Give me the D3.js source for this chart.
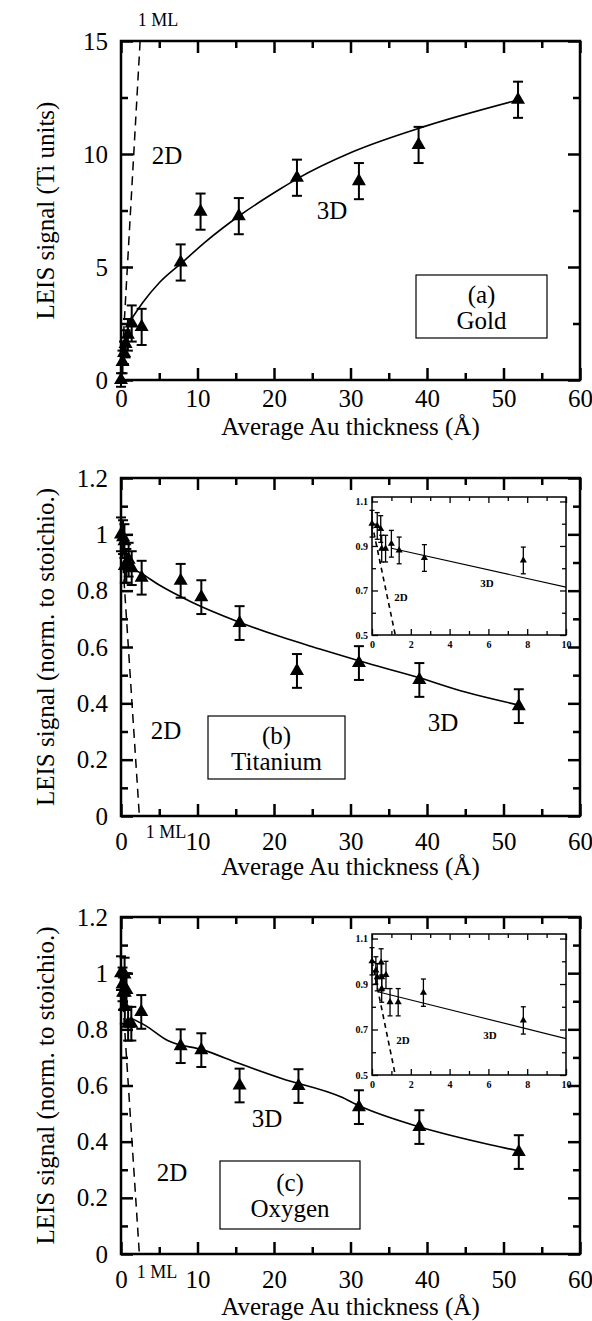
<!DOCTYPE html>
<html>
<head>
<meta charset="utf-8">
<script src="https://cdn.jsdelivr.net/npm/d3@7"></script>
<style>
  body { margin: 0; background: #fff; }
  svg { display: block; }
  text { font-family: "Liberation Serif", "Times New Roman", serif; fill: #000; }
</style>
</head>
<body>
<svg id="chart" width="592" height="1321"></svg>
<script>
// x axis (Average Au thickness, Angstrom)
var xTicks = [0, 10, 20, 30, 40, 50, 60];
var xMinor = [5, 15, 25, 35, 45, 55];
var goldTicks = [0, 5, 10, 15];
var goldMinor = [2.5, 7.5, 12.5];
var normTicks = [0, 0.2, 0.4, 0.6, 0.8, 1, 1.2];
var normMinor = [0.1, 0.3, 0.5, 0.7, 0.9, 1.1];
var insetXTicks = [0, 2, 4, 6, 8, 10];
var insetXMinor = [1, 3, 5, 7, 9];
var insetYTicks = [0.5, 0.7, 0.9, 1.1];
var insetYMinor = [0.6, 0.8, 1.0];

// (a) Gold
var goldX   = [0, 0.2, 0.4, 0.6, 0.9, 1.4, 2.7, 7.8, 10.4, 15.4, 23, 31.1, 38.9, 51.9];
var goldY   = [0, 0.8, 1.2, 1.6, 2.0, 2.5, 2.35, 5.2, 7.45, 7.25, 8.95, 8.8, 10.4, 12.4];
var goldErr = [0.3, 0.5, 0.5, 0.6, 0.7, 0.8, 0.8, 0.8, 0.8, 0.8, 0.8, 0.8, 0.8, 0.8];
var goldFitX = [0.9, 2.9, 5, 8, 11, 15.6, 20.8, 23, 30.3, 39.5, 52];
var goldFitY = [2.45, 3.45, 4.3, 5.2, 6.1, 7.3, 8.45, 8.9, 10.1, 11.2, 12.4];
var goldMlX = [0, 2.5];
var goldMlY = [0, 15];

// (b) Titanium
var tiX   = [0, 0.27, 0.45, 0.5, 0.7, 1.0, 1.4, 2.7, 7.8, 10.5, 15.5, 23, 31.1, 39, 52];
var tiY   = [1.0, 0.99, 0.976, 0.888, 0.888, 0.91, 0.88, 0.846, 0.835, 0.777, 0.685, 0.515, 0.543, 0.483, 0.39];
var tiErr = [0.06, 0.06, 0.06, 0.06, 0.06, 0.06, 0.06, 0.06, 0.06, 0.06, 0.06, 0.06, 0.06, 0.06, 0.06];
var tiFitX = [1.3, 2.6, 5, 9.2, 15.3, 20.9, 26, 31.2, 39.1, 45, 52];
var tiFitY = [0.88, 0.862, 0.82, 0.76, 0.69, 0.636, 0.593, 0.55, 0.49, 0.44, 0.394];
var tiInsetFitX = [1.0, 10];
var tiInsetFitY = [0.89, 0.715];

// (c) Oxygen
var oxX   = [0, 0.2, 0.27, 0.47, 0.5, 0.5, 0.72, 0.93, 1.35, 2.65, 7.8, 10.5, 15.5, 23.2, 31.1, 39, 52];
var oxY   = [1.0, 0.96, 0.93, 0.995, 0.93, 0.88, 0.94, 0.82, 0.82, 0.862, 0.74, 0.726, 0.6, 0.598, 0.523, 0.452, 0.363];
var oxErr = [0.06, 0.06, 0.06, 0.06, 0.06, 0.06, 0.06, 0.06, 0.06, 0.06, 0.06, 0.06, 0.06, 0.06, 0.06, 0.06, 0.06];
var oxFitX = [1.3, 3.1, 6.1, 10.8, 15.3, 20.9, 28.8, 31.2, 39.1, 48.4, 52];
var oxFitY = [0.84, 0.815, 0.76, 0.726, 0.68, 0.626, 0.559, 0.527, 0.452, 0.388, 0.367];
var oxInsetFitX = [0.35, 10];
var oxInsetFitY = [0.865, 0.66];

// 1 monolayer line for normalised panels
var normMlX = [0, 2.4];
var normMlY = [1, 0];

var svg = d3.select("#chart");
var FONT = 25;
var SERIF = "'Liberation Serif', 'Times New Roman', serif";

function zip(xs, ys, es) {
  return xs.map(function(x, i) { return {x: x, y: ys[i], e: es ? es[i] : 0}; });
}

function drawPoints(g, x, y, pts, size, cap, sw) {
  var eb = g.append("g").attr("stroke", "#000").attr("stroke-width", sw);
  pts.forEach(function(p) {
    var px = x(p.x);
    eb.append("line").attr("x1", px).attr("x2", px).attr("y1", y(p.y - p.e)).attr("y2", y(p.y + p.e));
    eb.append("line").attr("x1", px - cap).attr("x2", px + cap).attr("y1", y(p.y + p.e)).attr("y2", y(p.y + p.e));
    eb.append("line").attr("x1", px - cap).attr("x2", px + cap).attr("y1", y(p.y - p.e)).attr("y2", y(p.y - p.e));
  });
  g.selectAll("path.tri").data(pts).enter().append("path")
    .attr("class", "tri")
    .attr("d", d3.symbol(d3.symbolTriangle, size))
    .attr("transform", function(d) { return "translate(" + x(d.x) + "," + y(d.y) + ")"; })
    .attr("fill", "#000");
}

function styleAxis(sel, fs, big) {
  sel.select(".domain").remove();
  sel.selectAll("line").attr("stroke", "#000").attr("stroke-width", big ? 2.5 : 1.3);
  sel.selectAll("text").style("font-size", fs + "px").style("font-family", SERIF)
    .style("font-weight", big ? "normal" : "bold");
}

function frameAxes(g, x, y, o) {
  var big = o.big;
  var maj = big ? 12 : 6, mn = big ? 7 : 4, fs = big ? FONT : 10;
  var W = o.right - o.left, H = o.bottom - o.top;
  g.append("g").attr("transform", "translate(0," + o.bottom + ")")
    .call(d3.axisBottom(x).tickValues(o.xt).tickSize(-maj).tickPadding(o.xpad).tickFormat(o.xfmt))
    .call(styleAxis, fs, big);
  g.append("g").attr("transform", "translate(0," + o.bottom + ")")
    .call(d3.axisBottom(x).tickValues(o.xm).tickSize(-mn).tickFormat(""))
    .call(styleAxis, fs, big);
  g.append("g").attr("transform", "translate(0," + o.top + ")")
    .call(d3.axisTop(x).tickValues(o.xt).tickSize(-maj).tickFormat(""))
    .call(styleAxis, fs, big);
  g.append("g").attr("transform", "translate(0," + o.top + ")")
    .call(d3.axisTop(x).tickValues(o.xm).tickSize(-mn).tickFormat(""))
    .call(styleAxis, fs, big);
  g.append("g").attr("transform", "translate(" + o.left + ",0)")
    .call(d3.axisLeft(y).tickValues(o.yt).tickSize(-maj).tickPadding(big ? 13 : 4).tickFormat(o.yfmt))
    .call(styleAxis, fs, big);
  g.append("g").attr("transform", "translate(" + o.left + ",0)")
    .call(d3.axisLeft(y).tickValues(o.ym).tickSize(-mn).tickFormat(""))
    .call(styleAxis, fs, big);
  g.append("g").attr("transform", "translate(" + o.right + ",0)")
    .call(d3.axisRight(y).tickValues(o.yt).tickSize(-maj).tickFormat(""))
    .call(styleAxis, fs, big);
  g.append("g").attr("transform", "translate(" + o.right + ",0)")
    .call(d3.axisRight(y).tickValues(o.ym).tickSize(-mn).tickFormat(""))
    .call(styleAxis, fs, big);
  g.append("rect").attr("x", o.left).attr("y", o.top).attr("width", W).attr("height", H)
    .attr("fill", "none").attr("stroke", "#000").attr("stroke-width", big ? 2.5 : 1.5);
}

function label(g, txt, x, y, fs, weight) {
  return g.append("text").attr("x", x).attr("y", y).attr("text-anchor", "middle")
    .attr("dominant-baseline", "central")
    .style("font-family", SERIF).style("font-size", (fs || FONT) + "px")
    .style("font-weight", weight || "normal").text(txt);
}

function panel(o) {
  var g = svg.append("g");
  var x = d3.scaleLinear().domain([0, 60]).range([o.left, o.right]);
  var y = d3.scaleLinear().domain([0, o.yMax]).range([o.bottom, o.top]);
  var cid = "clip" + o.id;
  g.append("clipPath").attr("id", cid).append("rect")
    .attr("x", o.left).attr("y", o.top).attr("width", o.right - o.left).attr("height", o.bottom - o.top);

  var line = d3.line().x(function(d) { return x(d.x); }).y(function(d) { return y(d.y); });
  var inner = g.append("g").attr("clip-path", "url(#" + cid + ")");
  inner.append("path").datum(zip(o.mlX, o.mlY)).attr("d", line)
    .attr("fill", "none").attr("stroke", "#000").attr("stroke-width", 1.5).attr("stroke-dasharray", "9,6");
  inner.append("path").datum(zip(o.fitX, o.fitY)).attr("d", line.curve(d3.curveMonotoneX))
    .attr("fill", "none").attr("stroke", "#000").attr("stroke-width", 1.6);
  drawPoints(g, x, y, zip(o.xs, o.ys, o.es), 85, 5, 2);

  frameAxes(g, x, y, {big: true, left: o.left, right: o.right, top: o.top, bottom: o.bottom,
    xt: xTicks, xm: xMinor, yt: o.yt, ym: o.ym, xpad: o.xpad,
    xfmt: d3.format("~g"), yfmt: d3.format("~g")});

  g.append("text").attr("text-anchor", "middle").attr("dominant-baseline", "central")
    .attr("transform", "translate(" + ((o.left + o.right) / 2) + "," + (o.bottom + o.titleOff) + ")")
    .style("font-family", SERIF).style("font-size", FONT + "px").text("Average Au thickness (Å)");
  g.append("text").attr("text-anchor", "middle").attr("dominant-baseline", "central")
    .attr("transform", "translate(45," + ((o.top + o.bottom) / 2) + ") rotate(-90)")
    .style("font-family", SERIF).style("font-size", FONT + "px").text(o.yTitle);

  // box label (two lines in one text element)
  var bx = o.box[0] + o.box[2] / 2;
  g.append("rect").attr("x", o.box[0]).attr("y", o.box[1]).attr("width", o.box[2]).attr("height", o.box[3])
    .attr("fill", "#fff").attr("stroke", "#000").attr("stroke-width", 1.2);
  var bt = g.append("text").attr("text-anchor", "middle")
    .style("font-family", SERIF).style("font-size", FONT + "px");
  bt.append("tspan").attr("x", bx).attr("y", o.box[1] + o.box[3] * 0.32 + 8).text(o.boxText[0]);
  bt.append("tspan").attr("x", bx).attr("y", o.box[1] + o.box[3] * 0.32 + 34).text(o.boxText[1]);

  label(g, "2D", o.lab2D[0], o.lab2D[1]);
  label(g, "3D", o.lab3D[0], o.lab3D[1]);
  label(g, "1 ML", o.labML[0], o.labML[1], 18);

  if (o.inset) {
    var I = o.inset;
    var ix = d3.scaleLinear().domain([0, 10]).range([I.left, I.right]);
    var iy = d3.scaleLinear().domain([0.5, 1.12]).range([I.bottom, I.top]);
    var ig = g.append("g");
    ig.append("rect").attr("x", I.left).attr("y", I.top).attr("width", I.right - I.left)
      .attr("height", I.bottom - I.top).attr("fill", "#fff");
    var icid = "iclip" + o.id;
    ig.append("clipPath").attr("id", icid).append("rect")
      .attr("x", I.left).attr("y", I.top).attr("width", I.right - I.left).attr("height", I.bottom - I.top);
    var iline = d3.line().x(function(d) { return ix(d.x); }).y(function(d) { return iy(d.y); });
    var iin = ig.append("g").attr("clip-path", "url(#" + icid + ")");
    iin.append("path").datum(zip(normMlX, normMlY)).attr("d", iline)
      .attr("fill", "none").attr("stroke", "#000").attr("stroke-width", 1.6).attr("stroke-dasharray", "5,4");
    iin.append("path").datum(zip(I.fitX, I.fitY)).attr("d", iline)
      .attr("fill", "none").attr("stroke", "#000").attr("stroke-width", 1.1);
    var ipts = zip(o.xs, o.ys, o.es).filter(function(p) { return p.x <= 10; });
    drawPoints(ig, ix, iy, ipts, 22, 2.5, 1.3);
    frameAxes(ig, ix, iy, {big: false, left: I.left, right: I.right, top: I.top, bottom: I.bottom,
      xt: insetXTicks, xm: insetXMinor, yt: insetYTicks, ym: insetYMinor, xpad: 6,
      xfmt: d3.format("~g"), yfmt: d3.format(".1f")});
    label(ig, "2D", I.lab2D[0], I.lab2D[1], 11, "bold");
    label(ig, "3D", I.lab3D[0], I.lab3D[1], 11, "bold");
  }
}

panel({id: "a", left: 121, right: 580, top: 41, bottom: 380, yMax: 15, yt: goldTicks, ym: goldMinor,
  xpad: 9, titleOff: 46,
  xs: goldX, ys: goldY, es: goldErr, fitX: goldFitX, fitY: goldFitY, mlX: goldMlX, mlY: goldMlY,
  yTitle: "LEIS signal (Ti units)", box: [416, 275, 131, 63], boxText: ["(a)", "Gold"],
  lab2D: [167, 155], lab3D: [332, 210], labML: [158, 20]});

panel({id: "b", left: 121, right: 580, top: 478, bottom: 816, yMax: 1.2, yt: normTicks, ym: normMinor,
  xpad: 16, titleOff: 50,
  xs: tiX, ys: tiY, es: tiErr, fitX: tiFitX, fitY: tiFitY, mlX: normMlX, mlY: normMlY,
  yTitle: "LEIS signal (norm. to stoichio.)", box: [208, 716, 137, 63], boxText: ["(b)", "Titanium"],
  lab2D: [166, 730], lab3D: [443, 722], labML: [166, 832],
  inset: {left: 372, right: 566, top: 497, bottom: 635, fitX: tiInsetFitX, fitY: tiInsetFitY,
    lab2D: [401, 597], lab3D: [487, 583]}});

panel({id: "c", left: 121, right: 580, top: 917, bottom: 1254, yMax: 1.2, yt: normTicks, ym: normMinor,
  xpad: 16, titleOff: 52,
  xs: oxX, ys: oxY, es: oxErr, fitX: oxFitX, fitY: oxFitY, mlX: normMlX, mlY: normMlY,
  yTitle: "LEIS signal (norm. to stoichio.)", box: [220, 1161, 140, 68], boxText: ["(c)", "Oxygen"],
  lab2D: [172, 1172], lab3D: [267, 1118], labML: [157, 1272],
  inset: {left: 372, right: 566, top: 934, bottom: 1075, fitX: oxInsetFitX, fitY: oxInsetFitY,
    lab2D: [403, 1040], lab3D: [490, 1035]}});
</script>
</body>
</html>
